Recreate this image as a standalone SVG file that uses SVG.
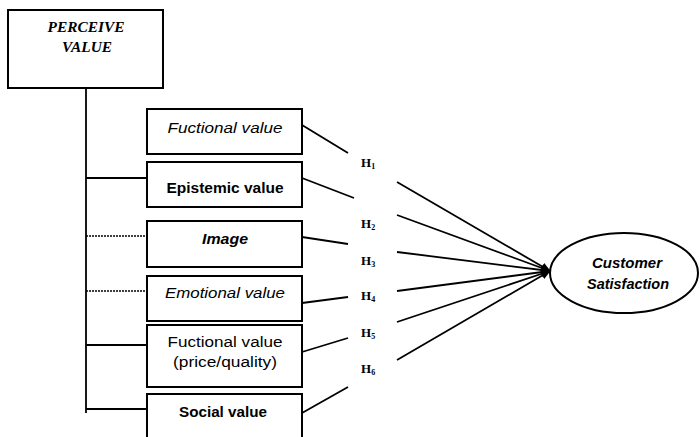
<svg xmlns="http://www.w3.org/2000/svg" width="700" height="437" viewBox="0 0 700 437">
<defs>
<marker id="arr" markerWidth="10" markerHeight="8" refX="9" refY="4" orient="auto" markerUnits="userSpaceOnUse">
<path d="M0,0 L10,4 L0,8 Z" fill="#000"/>
</marker>
</defs>
<style>
.box{fill:#fff;stroke:#000;stroke-width:2}
.t{font-family:"Liberation Sans",Arial,sans-serif;font-size:14px;fill:#000;text-anchor:middle}
.it{font-style:italic}
.b{font-weight:bold}
.h{font-family:"Liberation Serif","Times New Roman",serif;font-size:13px;font-weight:bold;fill:#000}
.pv{font-family:"Liberation Serif","Times New Roman",serif;font-size:14px;font-style:italic;font-weight:bold;fill:#000;text-anchor:middle}
.ln{stroke:#000;stroke-width:1.8;fill:none}
.dot{stroke:#000;stroke-width:1.5;stroke-dasharray:2 1;fill:none}
</style>
<rect width="700" height="437" fill="#fff"/>
<g id="connectors">
<line class="ln" x1="86" y1="88" x2="86" y2="413"/>
<line class="ln" x1="86" y1="178" x2="147" y2="178"/>
<line class="dot" x1="86" y1="236" x2="147" y2="236"/>
<line class="dot" x1="86" y1="291" x2="147" y2="291"/>
<line class="ln" x1="86" y1="345" x2="147" y2="345"/>
<line class="ln" x1="86" y1="409" x2="147" y2="409"/>
<line class="ln" x1="302" y1="125" x2="348" y2="153"/>
<line class="ln" x1="302" y1="178" x2="354" y2="198"/>
<line class="ln" x1="302" y1="237" x2="348" y2="244"/>
<line class="ln" x1="302" y1="303" x2="348" y2="297"/>
<line class="ln" x1="302" y1="352" x2="348" y2="338"/>
<line class="ln" x1="302" y1="413" x2="348" y2="387"/>
<line class="ln" x1="397" y1="182" x2="550" y2="271" marker-end="url(#arr)"/>
<line class="ln" x1="397" y1="215" x2="550" y2="271" marker-end="url(#arr)"/>
<line class="ln" x1="397" y1="252" x2="550" y2="271" marker-end="url(#arr)"/>
<line class="ln" x1="397" y1="291" x2="550" y2="271" marker-end="url(#arr)"/>
<line class="ln" x1="397" y1="322" x2="550" y2="271" marker-end="url(#arr)"/>
<line class="ln" x1="397" y1="360" x2="550" y2="271" marker-end="url(#arr)"/>
<text class="h" x="361" y="167">H<tspan font-size="8" dy="2">1</tspan></text>
<text class="h" x="361" y="228">H<tspan font-size="8" dy="2">2</tspan></text>
<text class="h" x="361" y="265">H<tspan font-size="8" dy="2">3</tspan></text>
<text class="h" x="361" y="300">H<tspan font-size="8" dy="2">4</tspan></text>
<text class="h" x="361" y="337">H<tspan font-size="8" dy="2">5</tspan></text>
<text class="h" x="361" y="373">H<tspan font-size="8" dy="2">6</tspan></text>
</g>
<g id="perceive-value">
<rect class="box" x="8" y="10" width="155" height="78"/>
<text class="pv" x="86" y="32" textLength="77" lengthAdjust="spacingAndGlyphs">PERCEIVE</text>
<text class="pv" x="87" y="52" textLength="50" lengthAdjust="spacingAndGlyphs">VALUE</text>
</g>
<g id="functional-value">
<rect class="box" x="147" y="109" width="155" height="45"/>
<text class="t it" x="225" y="133" textLength="115" lengthAdjust="spacingAndGlyphs">Fuctional value</text>
</g>
<g id="epistemic-value">
<rect class="box" x="147" y="162" width="155" height="45"/>
<text class="t b" x="225" y="193" textLength="117" lengthAdjust="spacingAndGlyphs">Epistemic value</text>
</g>
<g id="image">
<rect class="box" x="147" y="221" width="155" height="46"/>
<text class="t it b" x="225" y="244" textLength="46" lengthAdjust="spacingAndGlyphs">Image</text>
</g>
<g id="emotional-value">
<rect class="box" x="147" y="276" width="155" height="45"/>
<text class="t it" x="225" y="298" textLength="120" lengthAdjust="spacingAndGlyphs">Emotional value</text>
</g>
<g id="functional-price">
<rect class="box" x="147" y="325" width="155" height="62"/>
<text class="t" x="225" y="347" textLength="115" lengthAdjust="spacingAndGlyphs">Fuctional value</text>
<text class="t" x="225" y="367" textLength="104" lengthAdjust="spacingAndGlyphs">(price/quality)</text>
</g>
<g id="social-value">
<rect class="box" x="147" y="394" width="155" height="70"/>
<text class="t b" x="223" y="417" textLength="88" lengthAdjust="spacingAndGlyphs">Social value</text>
</g>
<g id="customer-satisfaction">
<ellipse class="box" cx="624" cy="273" rx="74" ry="40"/>
<text class="t it b" x="627" y="268" textLength="70" lengthAdjust="spacingAndGlyphs">Customer</text>
<text class="t it b" x="628" y="289" textLength="82" lengthAdjust="spacingAndGlyphs">Satisfaction</text>
</g>
</svg>
